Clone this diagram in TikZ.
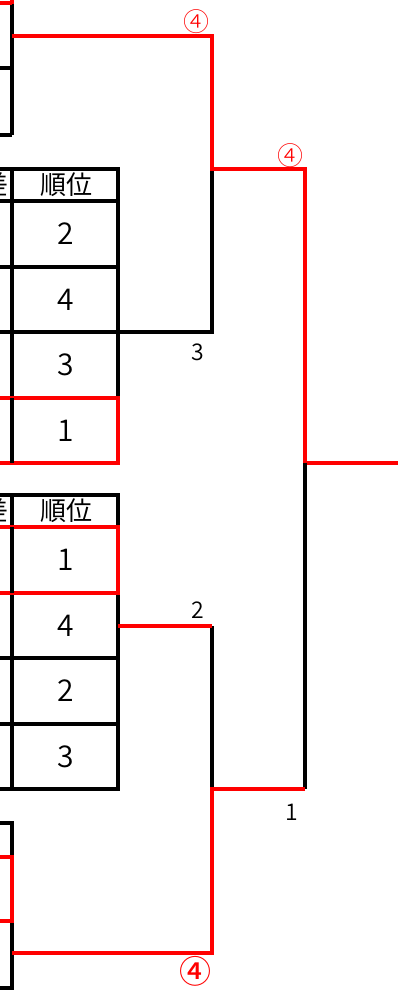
\documentclass[tikz,border=0pt]{standalone}
\usepackage{fontspec}
\setmainfont{Noto Sans CJK JP}
\newfontfamily\jpbold{Noto Sans CJK JP Medium}
\newfontfamily\jplight{Noto Sans CJK JP Light}
\newfontfamily\jpdemi{Noto Sans CJK JP DemiLight}
\begin{document}
\begin{tikzpicture}[x=1pt,y=-1pt,
  blk/.style={line width=3.2pt,black},
  rd/.style={line width=3.2pt,red},
  val/.style={font=\jpdemi\fontsize{30}{30}\selectfont,inner sep=0pt},
  hdr/.style={font=\fontsize{26}{26}\selectfont,inner sep=0pt},
  lbl/.style={font=\jpdemi\fontsize{23}{23}\selectfont,inner sep=0pt},
  circ/.style={font=\jplight\fontsize{26}{26}\selectfont,inner sep=0pt,text=red}]
\useasboundingbox[fill=white] (0,0) rectangle (398,990);
% coordinates
\coordinate (t0) at (0,3); \coordinate (t1) at (12,3);
\coordinate (a0) at (12,0); \coordinate (a1) at (12,135);
\coordinate (a2) at (0,68); \coordinate (a3) at (12,68);
\coordinate (a4) at (0,135);
\coordinate (p1) at (12,36); \coordinate (p2) at (212,36); \coordinate (p3) at (212,169);
\coordinate (q1) at (305,169); \coordinate (q2) at (305,463); \coordinate (q3) at (398,463);
\coordinate (q4) at (305,789);
\coordinate (r1) at (118,332); \coordinate (r2) at (212,332);
\coordinate (s1) at (118,626); \coordinate (s2) at (212,626); \coordinate (s3) at (212,789);
\coordinate (s4) at (212,953); \coordinate (s5) at (12,953);
% top partial bracket
\draw[blk] (a0) -- (a1);
\draw[blk] (a2) -- (a3);
\draw[blk] (a4) -- (a1);
\draw[rd] (t0) -- (t1);
\draw[rd] (12,0) -- (12,4);
% table 1
\draw[blk] (-5,169) rectangle (118,463);
\foreach \y in {201,267,332,398} \draw[blk] (-5,\y) -- (118,\y);
\draw[blk] (12,169) -- (12,463);
\draw[rd] (-5,398) -- (118,398) -- (118,463) -- (-5,463);
\draw[blk] (12,398) -- (12,463);
\node[hdr] (h1) at (66,185) {順位};
\node[hdr,anchor=east] (h1l) at (9,185) {差};
\node[val] (v11) at (66,234) {2};
\node[val] (v12) at (66,300) {4};
\node[val] (v13) at (66,365) {3};
\node[val] (v14) at (66,431) {1};
% table 2
\draw[blk] (-5,495) rectangle (118,789);
\foreach \y in {527,593,658,724} \draw[blk] (-5,\y) -- (118,\y);
\draw[blk] (12,495) -- (12,789);
\draw[rd] (-5,527) -- (118,527) -- (118,593) -- (-5,593);
\draw[blk] (12,527) -- (12,593);
\node[hdr] (h2) at (66,511) {順位};
\node[hdr,anchor=east] (h2l) at (9,511) {差};
\node[val] (v21) at (66,560) {1};
\node[val] (v22) at (66,626) {4};
\node[val] (v23) at (66,691) {2};
\node[val] (v24) at (66,757) {3};
% bottom partial bracket
\draw[blk] (0,823) -- (12,823) -- (12,988) -- (0,988);
\draw[rd] (0,857) -- (12,857) -- (12,921) -- (0,921);
% bracket lines
\draw[blk] (r1) -- (r2) -- (p3);
\draw[rd] (p1) -- (p2) -- (p3) -- (q1) -- (q2) -- (q3);
\draw[blk] (q2) -- (q4);
\draw[blk] (s2) -- (s3);
\draw[rd] (s1) -- (s2);
\draw[rd] (q4) -- (s3) -- (s4) -- (s5);
% labels
\node[circ] (c1) at (196,22) {④};
\node[circ] (c2) at (290,156) {④};
\node[circ,font=\jpbold\fontsize{32}{32}\selectfont] (c3) at (195,971) {④};
\node[lbl] (l3) at (198,352) {3};
\node[lbl] (l2) at (198,610) {2};
\node[lbl] (l1) at (292,812) {1};
\end{tikzpicture}
\end{document}
